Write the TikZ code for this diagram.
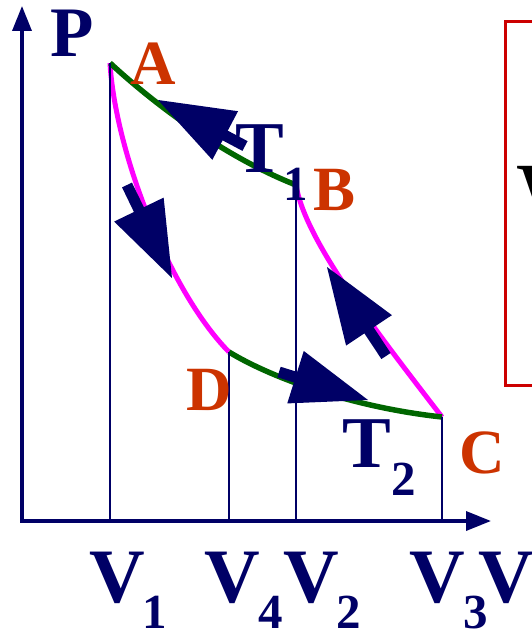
\documentclass[tikz,border=0pt]{standalone}
\usepackage{fontspec}
\setmainfont{Liberation Serif}
\usetikzlibrary{arrows.meta,calc}
\definecolor{navy}{RGB}{0,0,102}
\definecolor{ptred}{RGB}{204,51,0}
\definecolor{isogreen}{RGB}{0,102,0}
\definecolor{adiab}{RGB}{255,0,255}
\definecolor{boxred}{RGB}{204,0,0}
\tikzset{
  axis/.style={navy,line width=3.5pt,-{Triangle[length=25pt,width=19pt]}},
  vline/.style={navy,line width=1.6pt},
  isotherm/.style={isogreen,line width=5.5pt},
  adiabat/.style={adiab,line width=5pt},
  ptlabel/.style={ptred,font=\fontsize{63}{63}\selectfont\bfseries,inner sep=0pt,anchor=base},
  bigtxt/.style={navy,font=\fontsize{77}{77}\selectfont\bfseries,inner sep=0pt,anchor=base},
  ttxt/.style={navy,font=\fontsize{73}{73}\selectfont\bfseries,inner sep=0pt,anchor=base},
  subtxt/.style={navy,font=\fontsize{49}{49}\selectfont\bfseries,inner sep=0pt,anchor=base},
}
\newcommand\BigFlowArrow[2]{%
  \coordinate (bfb) at ($(#2)!76pt!(#1)$);
  \draw[navy,line width=11pt] (#1) -- ($(bfb)!3pt!(#2)$);
  \fill[navy] (#2) -- ($(bfb)!27.5pt!90:(#2)$) -- ($(bfb)!27.5pt!-90:(#2)$) -- cycle;
}
\begin{document}
\begin{tikzpicture}[x=1pt,y=-1pt]
\useasboundingbox (0,0) rectangle (532,631);
\clip (0,0) rectangle (532,631);
% frame at right
\draw[boxred,line width=3pt] (560,22) -- (505,22) -- (505,385) -- (560,385);
\node[inner sep=0pt,anchor=base west,font=\fontsize{98}{98}\selectfont] (wglyph) at (517,230) {W};
% points
\coordinate (O) at (22,521);
\coordinate (ytip) at (22,6);
\coordinate (xtip) at (491,521);
\coordinate (A) at (110,63);
\coordinate (B) at (296,185);
\coordinate (C) at (442,417);
\coordinate (D) at (229,352);
\coordinate (A0) at (110,521);
\coordinate (B0) at (296,521);
\coordinate (C0) at (442,521);
\coordinate (D0) at (229,521);
% curves
\draw[adiabat] (A) .. controls (115,150) and (168,290) .. (D);
\draw[adiabat] (B) .. controls (305,240) and (375,330) .. (C);
\draw[isotherm] (A) .. controls (150,100) and (220,155) .. (B);
\draw[isotherm] (D) .. controls (270,377) and (350,407) .. (C);
% verticals
\draw[vline] (A0) -- (A);
\draw[vline] (D0) -- (D);
\draw[vline] (B0) -- (B);
\draw[vline] (C0) -- (C);
% axes
\draw[axis] (O) -- (ytip);
\draw[axis] ($(O)+(-1.75,0)$) -- (xtip);
% flow arrows
\coordinate (ab1) at (245,146); \coordinate (ab2) at (158,100);
\coordinate (ad1) at (127,185); \coordinate (ad2) at (172,278);
\coordinate (cb1) at (386,356); \coordinate (cb2) at (327,267);
\coordinate (dc1) at (279,372); \coordinate (dc2) at (368,400);
\BigFlowArrow{ab1}{ab2}
\BigFlowArrow{ad1}{ad2}
\BigFlowArrow{cb1}{cb2}
\BigFlowArrow{dc1}{dc2}
% labels
\node[navy,font=\fontsize{71}{71}\selectfont\bfseries,inner sep=0pt,anchor=base] (Plab) at (72,57) {P};
\node[ptlabel] (Alab) at (153,85) {A};
\node[ptlabel] (Blab) at (335,210) {B};
\node[ptlabel] (Clab) at (482,473) {C};
\node[ptlabel] (Dlab) at (209,410) {D};
\node[ttxt] (T1) at (260,172) {T};
\node[subtxt] (T1s) at (296,200) {1};
\node[ttxt] (T2) at (367,467) {T};
\node[subtxt] (T2s) at (404,495) {2};
\node[bigtxt] (V1) at (117,602) {V};
\node[subtxt] (V1s) at (155,628) {1};
\node[bigtxt] (V4) at (232,602) {V};
\node[subtxt] (V4s) at (271,628) {4};
\node[bigtxt] (V2) at (311,602) {V};
\node[subtxt] (V2s) at (349,628) {2};
\node[bigtxt] (V3) at (437,602) {V};
\node[subtxt] (V3s) at (476,628) {3};
\node[bigtxt] (Vax) at (506,602) {V};
\end{tikzpicture}
\end{document}
